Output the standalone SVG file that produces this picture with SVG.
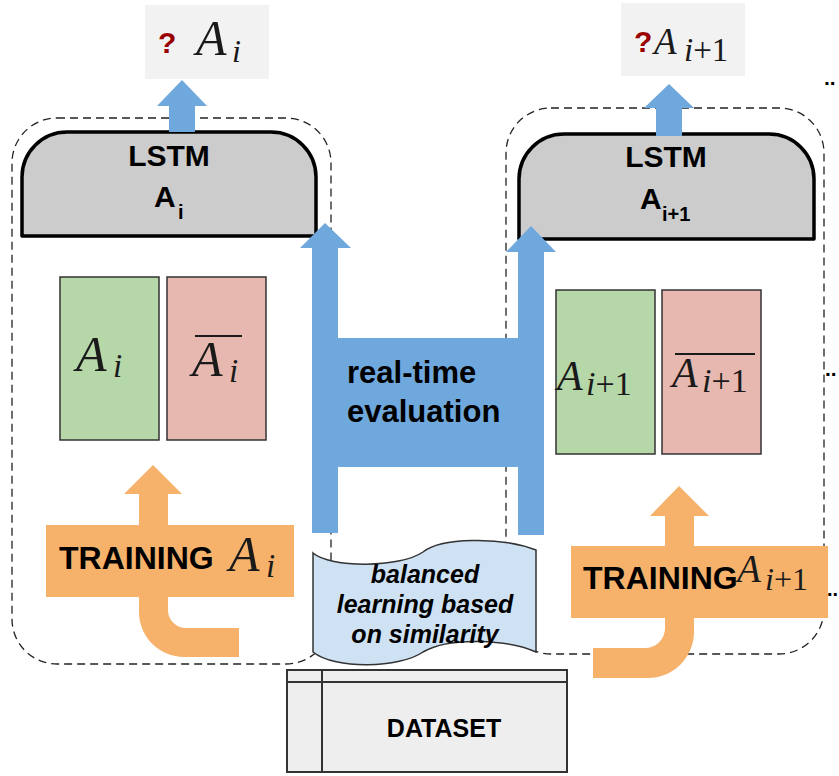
<svg xmlns="http://www.w3.org/2000/svg" width="839" height="776" viewBox="0 0 839 776">
<style>
.dash{fill:none;stroke:#222;stroke-width:1.3;stroke-dasharray:8 5}
.lstm{fill:#cccccc;stroke:#000;stroke-width:3.5;stroke-linejoin:round}
.sans{font-family:"Liberation Sans",Arial,sans-serif;font-weight:bold;fill:#000}
.math{font-family:"Liberation Serif","Times New Roman",serif;font-style:italic;fill:#1a1a1a}
.up{font-family:"Liberation Serif","Times New Roman",serif;font-style:normal;fill:#1a1a1a}
.q{font-family:"Liberation Sans",Arial,sans-serif;font-weight:bold;fill:#990000;font-size:30px}
.blue{fill:#6fa8dc}
.orange{fill:#f6b26b}
.green{fill:#b6d7a8;stroke:#333;stroke-width:1.5}
.red{fill:#e6b8af;stroke:#333;stroke-width:1.5}
.lbl{fill:#f2f2f2}
</style>
<rect width="839" height="776" fill="#fff"/>

<g id="container-left"><rect class="dash" x="12" y="118" width="319" height="546" rx="45" ry="45"/></g>
<g id="container-right"><rect class="dash" x="506" y="108" width="318" height="546" rx="45" ry="45"/></g>

<g id="lstm-left">
<path class="lstm" d="M22,236 L22,177 A45,45 0 0 1 67,132 L271,132 A45,45 0 0 1 316,177 L316,236 Z"/>
<text class="sans" x="169" y="166" font-size="30" text-anchor="middle">LSTM</text>
<text class="sans" x="154" y="207" font-size="30">A</text>
<text class="sans" x="178" y="219" font-size="20">i</text>
</g>
<g id="lstm-right">
<path class="lstm" d="M519,239 L519,179 A45,45 0 0 1 564,134 L769,134 A45,45 0 0 1 814,179 L814,239 Z"/>
<text class="sans" x="666" y="167" font-size="30" text-anchor="middle">LSTM</text>
<text class="sans" x="640" y="209" font-size="30">A</text>
<text class="sans" x="662" y="221" font-size="20">i+1</text>
</g>

<g id="label-left">
<rect class="lbl" x="145" y="5" width="124" height="74"/>
<text class="q" x="158" y="53">?</text>
<text class="math" x="196" y="55" font-size="50">A</text>
<text class="math" x="232" y="62" font-size="32">i</text>
</g>
<g id="label-right">
<rect class="lbl" x="621" y="3" width="124" height="73"/>
<text class="q" x="634" y="52">?</text>
<text class="math" x="654" y="54" font-size="37">A</text>
<text x="684" y="61" font-size="33"><tspan class="math">i</tspan><tspan class="up">+1</tspan></text>
</g>

<g id="classes-left">
<rect class="green" x="60" y="277" width="99" height="163"/>
<rect class="red" x="167" y="277" width="99" height="163"/>
<text class="math" x="76" y="371" font-size="50">A</text>
<text class="math" x="113" y="377" font-size="33">i</text>
<line x1="195" y1="336" x2="242" y2="336" stroke="#1a1a1a" stroke-width="2"/>
<text class="math" x="192" y="376" font-size="50">A</text>
<text class="math" x="229" y="382" font-size="33">i</text>
</g>
<g id="classes-right">
<rect class="green" x="556" y="290" width="99" height="164"/>
<rect class="red" x="662" y="290" width="99" height="164"/>
<text class="math" x="557" y="390" font-size="42">A</text>
<text x="586" y="395" font-size="34"><tspan class="math">i</tspan><tspan class="up">+1</tspan></text>
<line x1="675" y1="354" x2="755" y2="354" stroke="#1a1a1a" stroke-width="2"/>
<text class="math" x="672" y="387" font-size="42">A</text>
<text x="702" y="392" font-size="34"><tspan class="math">i</tspan><tspan class="up">+1</tspan></text>
</g>

<g id="training-left">
<path class="orange" d="M139,526 L139,494 L124,494 L153,465 L182,494 L168,494 L168,526 Z"/>
<rect class="orange" x="46" y="525" width="248" height="72"/>
<path class="orange" d="M139,596 L139,612 A45,45 0 0 0 184,657 L239,657 L239,628 L186,628 A18,18 0 0 1 168,610 L168,596 Z"/>
<text class="sans" x="59" y="569" font-size="32">TRAINING</text>
<text class="math" x="229" y="571" font-size="50">A</text>
<text class="math" x="266" y="577" font-size="33">i</text>
</g>
<g id="training-right">
<path class="orange" d="M665,547 L665,516 L650,516 L679,486 L709,516 L694,516 L694,547 Z"/>
<rect class="orange" x="571" y="546" width="257" height="72"/>
<path class="orange" d="M665,617 L665,628 A20,20 0 0 1 645,648 L593,648 L593,678 L648,678 A46,46 0 0 0 694,632 L694,617 Z"/>
<text class="sans" x="583" y="589" font-size="32">TRAINING</text>
<text class="math" x="737" y="582" font-size="39" fill="#2f3d36">A</text>
<text x="765" y="590" font-size="32" fill="#2f3d36"><tspan class="math" fill="#2f3d36">i</tspan><tspan class="up" fill="#2f3d36">+1</tspan></text>
</g>

<g id="evaluation">
<path class="blue" d="M312,533 L312,248 L300,248 L325,223 L351,248 L338,248 L338,338 L518,338 L518,252 L506,252 L531,226 L556,252 L544,252 L544,535 L518,535 L518,467 L338,467 L338,533 Z"/>
<text class="sans" x="347" y="383" font-size="31">real-time</text>
<text class="sans" x="347" y="422" font-size="31">evaluation</text>
</g>

<g id="balanced-learning">
<path d="M313,553 C330,568 400,568 423,552 C440,538 500,536 536,550 L536,652 C510,640 450,636 423,652 C400,668 335,670 313,652 Z" fill="#cfe2f3" stroke="#333" stroke-width="1.5"/>
<g class="sans" font-style="italic" font-size="25" text-anchor="middle">
<text x="425" y="583">balanced</text>
<text x="425" y="613">learning based</text>
<text x="425" y="643">on similarity</text>
</g>
</g>

<g id="dataset">
<rect x="287" y="670" width="280" height="102" fill="#eeeeee" stroke="#333" stroke-width="2"/>
<line x1="287" y1="682" x2="567" y2="682" stroke="#333" stroke-width="2"/>
<line x1="322" y1="670" x2="322" y2="772" stroke="#333" stroke-width="2"/>
<text class="sans" x="444" y="737" font-size="25" text-anchor="middle">DATASET</text>
</g>

<g id="connectors">
<polygon class="blue" points="169,132 169,106 157,106 182,80 207,106 195,106 195,132"/>
<polygon class="blue" points="656,136 656,108 644,108 669,84 694,108 682,108 682,136"/>
</g>

<g id="continuation">
<text class="sans" x="824" y="85" font-size="21">..</text>
<text class="sans" x="825" y="376" font-size="21">..</text>
<text class="sans" x="827" y="596" font-size="20">..</text>
</g>
</svg>
